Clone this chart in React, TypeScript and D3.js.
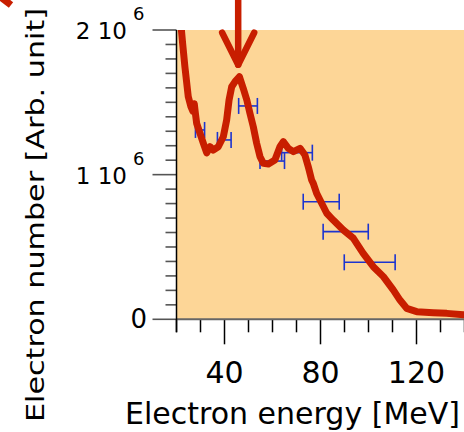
import React from "react";
import * as d3 from "d3";

// Spectrum (energy in MeV, electron number in units of 1e6)
const energy = [21.6, 22.6, 23.5, 24.9, 26.0, 26.8, 27.4, 27.9, 28.4, 29.8, 31.2, 32.6, 34.0, 35.3, 37.4, 39.5, 40.9, 41.9, 43.0, 44.4, 46.2, 47.8, 49.3, 50.6, 52.0, 53.4, 54.8, 56.2, 58.3, 61.0, 63.1, 64.5, 66.6, 68.7, 71.5, 73.5, 74.9, 76.3, 77.0, 78.4, 79.8, 82.6, 85.3, 89.5, 93.7, 97.8, 102.0, 106.2, 110.3, 113.1, 115.9, 120.1, 127.0, 132.6, 139.5, 141.0];
const counts = [2.08, 1.9, 1.746, 1.539, 1.47, 1.44, 1.49, 1.42, 1.355, 1.286, 1.217, 1.15, 1.193, 1.17, 1.193, 1.262, 1.378, 1.516, 1.608, 1.643, 1.677, 1.597, 1.516, 1.424, 1.331, 1.217, 1.124, 1.078, 1.074, 1.101, 1.193, 1.228, 1.182, 1.159, 1.182, 1.136, 1.055, 0.963, 0.94, 0.871, 0.825, 0.733, 0.686, 0.617, 0.56, 0.456, 0.364, 0.295, 0.203, 0.133, 0.076, 0.053, 0.046, 0.041, 0.032, 0.03];

// Horizontal error bars
const ebEnergy = [29.8, 39.9, 49.8, 59.9, 70.2, 80.3, 90.5, 100.5];
const ebHalfWidth = [1.9, 2.85, 3.9, 5.1, 6.4, 7.5, 9.4, 10.6];
const ebCounts = [1.309, 1.24, 1.475, 1.094, 1.152, 0.813, 0.606, 0.394];

const xTicks = d3.range(20, 141, 10);
const xMajor = [40, 80, 120];
const yTicks = d3.range(0, 2.0001, 0.1);
const yLabels = [
  { v: 0, base: "0", exp: "" },
  { v: 1, base: "1 10", exp: "6" },
  { v: 2, base: "2 10", exp: "6" },
];
const arrowEnergy = 45.7;
const arrowTipCounts = 1.76;

const W = 464;
const H = 432;
const left = 176.5;
const right = 464.5;
const top = 30;
const bottom = 319.3;

export default function App() {
  const x = d3.scaleLinear().domain([20, 140]).range([left, right]);
  const y = d3.scaleLinear().domain([0, 2]).range([bottom, top]);
  const line = d3
    .line<number>()
    .x((_, i) => x(energy[i]))
    .y((d) => y(d))
    .curve(d3.curveLinear);

  const red = "#C81E00";
  const blue = "#1C34D0";
  const font = "'DejaVu Sans', sans-serif";
  const ax = x(arrowEnergy);
  const ay = y(arrowTipCounts);

  return (
    <svg
      width={W}
      height={H}
      style={{ position: "absolute", left: 0, top: 0, background: "#fff" }}
    >
      <defs>
        <clipPath id="plotclip">
          <rect x={left} y={top} width={right - left} height={bottom - top} />
        </clipPath>
      </defs>
      <rect x={left} y={top} width={right - left} height={bottom - top} fill="#FDD697" />

      {/* y ticks */}
      {yTicks.map((v, i) => {
        const major = Math.abs(v - Math.round(v)) < 1e-6;
        return (
          <line
            key={"yt" + i}
            x1={left - (major ? 24 : 11)}
            x2={left}
            y1={y(v)}
            y2={y(v)}
            stroke="#555"
            strokeWidth={1.6}
          />
        );
      })}
      {/* x ticks */}
      {xTicks.map((v) => {
        const major = xMajor.includes(v);
        return (
          <line
            key={"xt" + v}
            x1={x(v)}
            x2={x(v)}
            y1={bottom}
            y2={bottom + (major ? 25 : 13)}
            stroke="#000"
            strokeWidth={1.5}
          />
        );
      })}
      <line x1={left} x2={right} y1={bottom} y2={bottom} stroke="#666" strokeWidth={2} />
      <line x1={left} x2={left} y1={top} y2={bottom + 13} stroke="#000" strokeWidth={1.5} />

      {/* error bars */}
      {ebEnergy.map((e, i) => {
        const x1 = x(e - ebHalfWidth[i]);
        const x2 = x(e + ebHalfWidth[i]);
        const yy = y(ebCounts[i]);
        return (
          <g key={"eb" + i} stroke={blue} strokeWidth={1.6} fill="none">
            <line x1={x1} x2={x2} y1={yy} y2={yy} />
            <line x1={x1} x2={x1} y1={yy - 8} y2={yy + 8} />
            <line x1={x2} x2={x2} y1={yy - 8} y2={yy + 8} />
          </g>
        );
      })}

      {/* spectrum */}
      <g clipPath="url(#plotclip)">
        <path
          d={line(counts) || ""}
          fill="none"
          stroke={red}
          strokeWidth={7}
          strokeLinejoin="round"
          strokeLinecap="butt"
        />
      </g>

      {/* arrow */}
      <g stroke={red} strokeWidth={6.5} fill="none" strokeLinecap="round" strokeLinejoin="round">
        <line x1={ax} x2={ax} y1={-5} y2={ay} />
        <polyline points={`${ax - 16},${ay - 32} ${ax},${ay} ${ax + 16},${ay - 32}`} />
      </g>
      {/* fragment of another arrow at the corner */}
      <line x1={-6} y1={-8} x2={11} y2={5} stroke={red} strokeWidth={7} />

      {/* y tick labels */}
      {yLabels.map((l) =>
        l.exp ? (
          <g key={"yl" + l.v} fontFamily={font} fill="#000">
            <text x={127} y={y(l.v) + 9} textAnchor="end" fontSize={23}>
              {l.base}
            </text>
            <text x={133} y={y(l.v) - 10} textAnchor="start" fontSize={18}>
              {l.exp}
            </text>
          </g>
        ) : (
          <text
            key={"yl" + l.v}
            x={147}
            y={y(l.v) + 9}
            textAnchor="end"
            fontFamily={font}
            fontSize={26}
            fill="#000"
          >
            {l.base}
          </text>
        )
      )}

      {/* x tick labels */}
      {xMajor.map((v) => (
        <text
          key={"xl" + v}
          x={x(v)}
          y={383}
          textAnchor="middle"
          fontFamily={font}
          fontSize={30}
          fill="#000"
        >
          {v}
        </text>
      ))}

      {/* axis titles */}
      <text
        x={292.5}
        y={424}
        textAnchor="middle"
        fontFamily={font}
        fontSize={30}
        textLength={335}
        lengthAdjust="spacingAndGlyphs"
        fill="#000"
      >
        Electron energy [MeV]
      </text>
      <text
        transform="translate(44,215) rotate(-90)"
        textAnchor="middle"
        fontFamily={font}
        fontSize={25}
        textLength={414}
        lengthAdjust="spacingAndGlyphs"
        fill="#000"
      >
        Electron number [Arb. unit]
      </text>
    </svg>
  );
}
